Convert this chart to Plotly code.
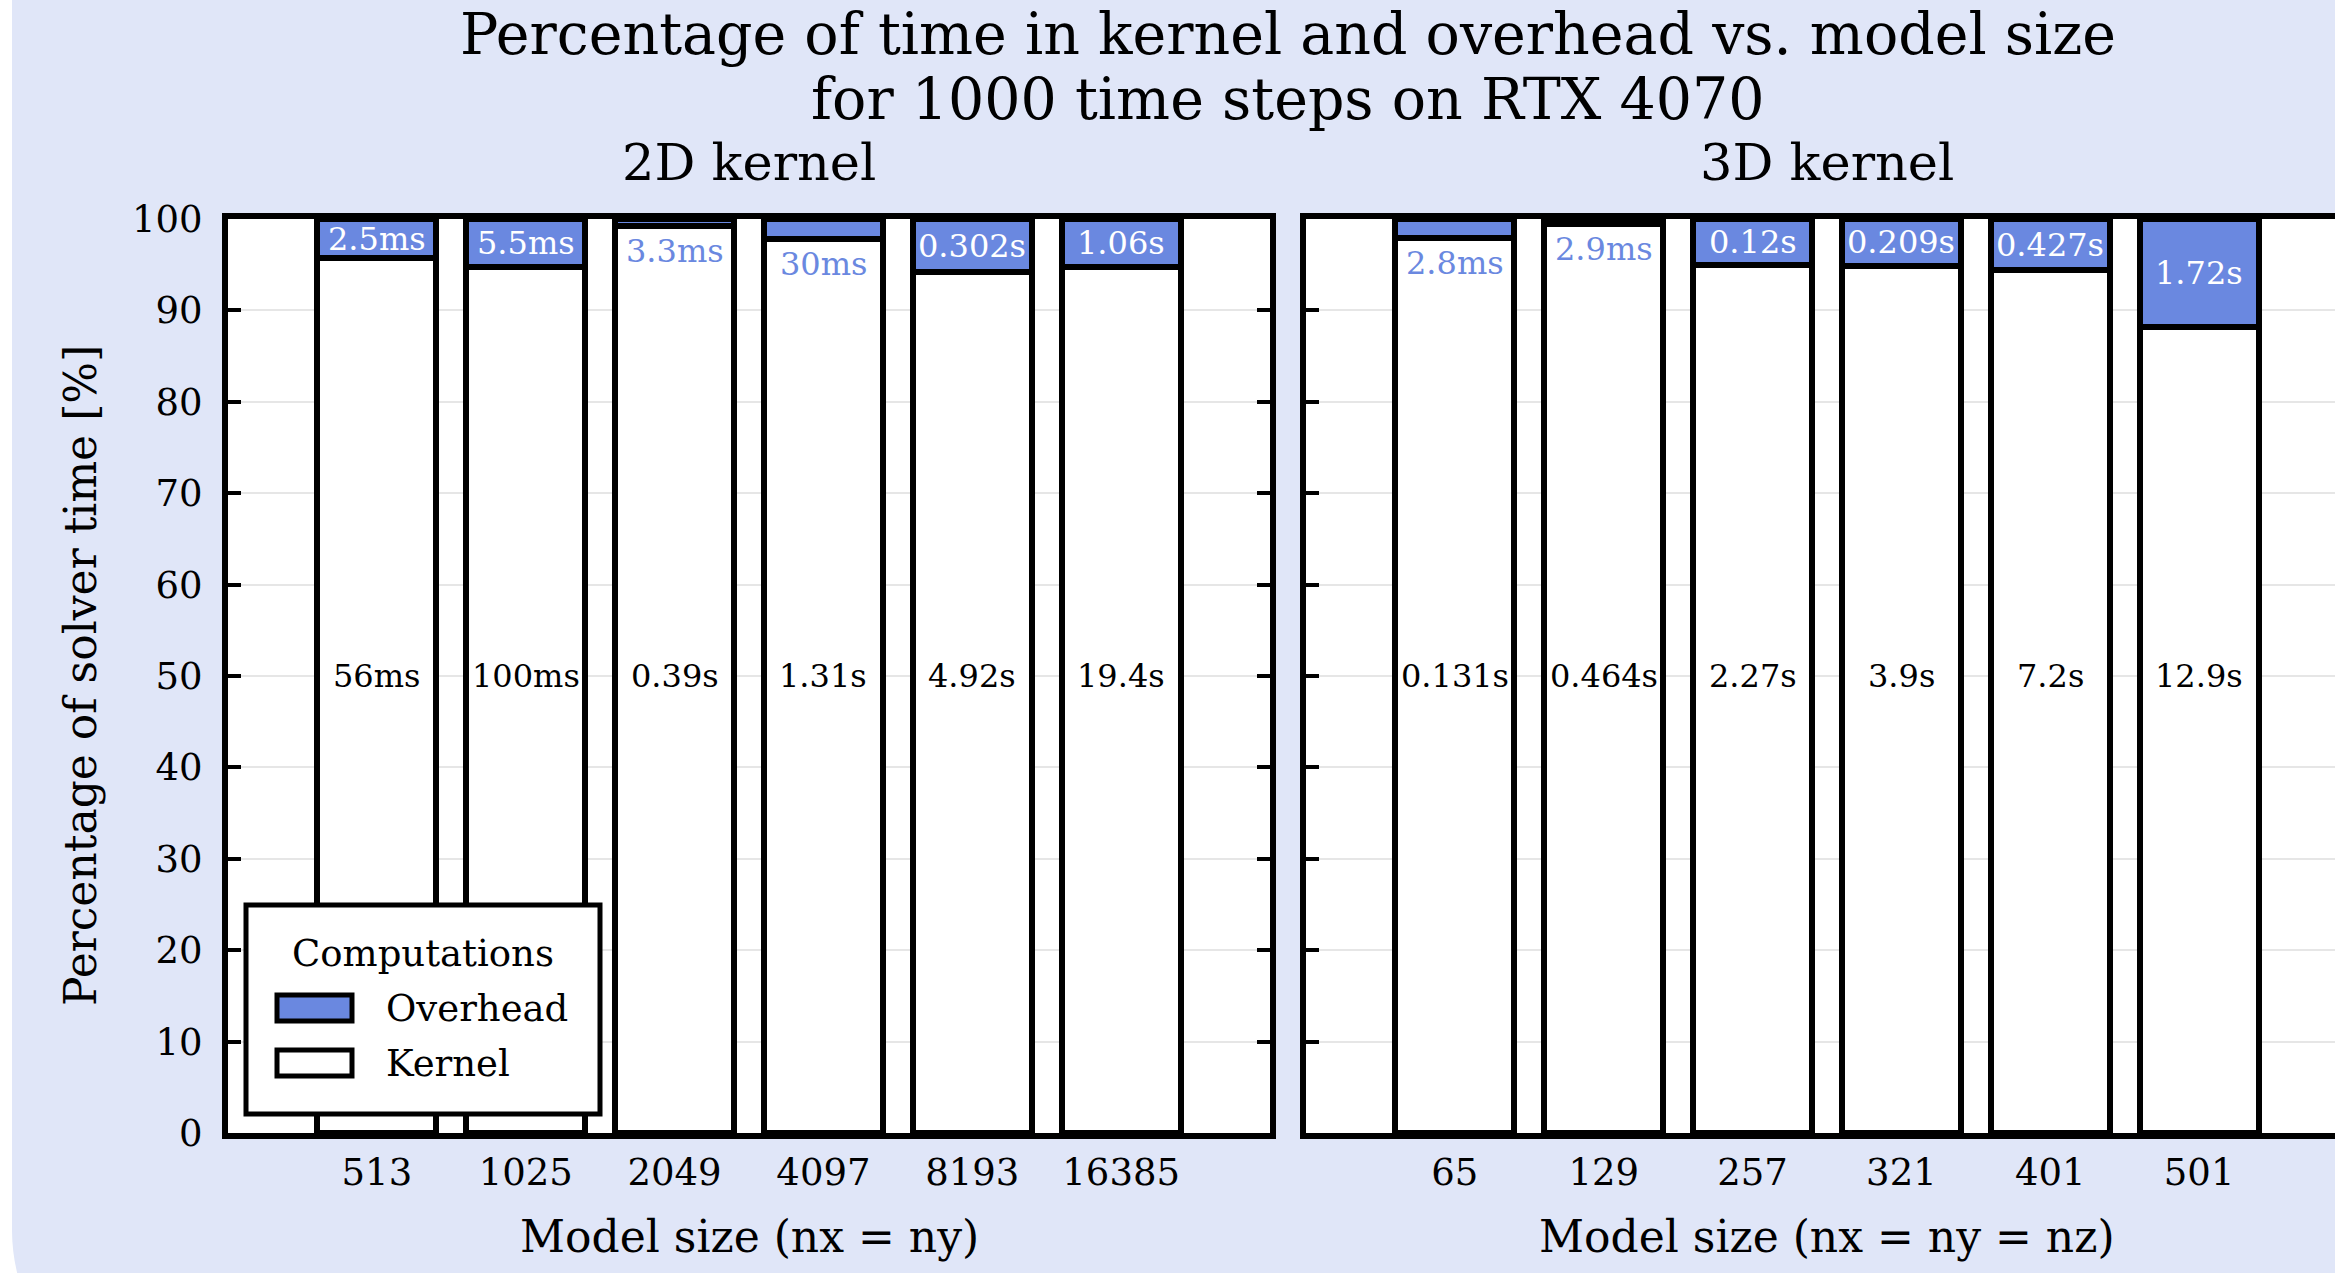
import plotly.graph_objects as go

# ---------------- data ----------------
sizes_2d = ["513", "1025", "2049", "4097", "8193", "16385"]
kernel_pct_2d = [95.7, 94.8, 99.2, 97.8, 94.2, 94.8]
overhead_pct_2d = [4.3, 5.2, 0.8, 2.2, 5.8, 5.2]
kernel_time_2d = ["56ms", "100ms", "0.39s", "1.31s", "4.92s", "19.4s"]
overhead_time_2d = ["2.5ms", "5.5ms", "3.3ms", "30ms", "0.302s", "1.06s"]

sizes_3d = ["65", "129", "257", "321", "401", "501"]
kernel_pct_3d = [97.9, 99.4, 95.0, 94.9, 94.4, 88.2]
overhead_pct_3d = [2.1, 0.6, 5.0, 5.1, 5.6, 11.8]
kernel_time_3d = ["0.131s", "0.464s", "2.27s", "3.9s", "7.2s", "12.9s"]
overhead_time_3d = ["2.8ms", "2.9ms", "0.12s", "0.209s", "0.427s", "1.72s"]

y_ticks = [0, 10, 20, 30, 40, 50, 60, 70, 80, 90, 100]

title_lines = ["Percentage of time in kernel and overhead vs. model size",
               "for 1000 time steps on RTX 4070"]

# ---------------- style ----------------
W, H = 2335, 1273
FONT = "DejaVu Serif"
BLUE = "#6A88E0"
LAV = "#E0E6F8"
EDGE = 6
LBL = 32
TICK = 37
AXT = 44

def px(x):
    return x / W

def py(y):
    return 1 - y / H

fig = go.Figure()

panels = [
    ("x", "y", sizes_2d, kernel_pct_2d, overhead_pct_2d, kernel_time_2d, overhead_time_2d),
    ("x2", "y2", sizes_3d, kernel_pct_3d, overhead_pct_3d, kernel_time_3d, overhead_time_3d),
]

annotations = []
for xa, ya, cats, kp, op, kt, ot in panels:
    fig.add_trace(go.Bar(x=cats, y=kp, name="Kernel", xaxis=xa, yaxis=ya, width=0.8,
                         marker=dict(color="white", line=dict(color="black", width=EDGE)),
                         showlegend=False, hoverinfo="skip"))
    fig.add_trace(go.Bar(x=cats, y=op, name="Overhead", xaxis=xa, yaxis=ya, width=0.8,
                         marker=dict(color=BLUE, line=dict(color="black", width=EDGE)),
                         showlegend=False, hoverinfo="skip"))
    for i, c in enumerate(cats):
        # category index used as position (numeric-looking category names)
        annotations.append(dict(x=i, y=50, xref=xa, yref=ya, text=kt[i], showarrow=False,
                                font=dict(family=FONT, size=LBL, color="black")))
        if op[i] >= 3:
            annotations.append(dict(x=i, y=kp[i] + op[i] / 2, xref=xa, yref=ya, text=ot[i],
                                    showarrow=False, yanchor="middle",
                                    font=dict(family=FONT, size=LBL, color="white")))
        else:
            annotations.append(dict(x=i, y=kp[i], xref=xa, yref=ya, text=ot[i],
                                    showarrow=False, yanchor="top", yshift=-4,
                                    font=dict(family=FONT, size=LBL, color=BLUE)))

# titles
annotations += [
    dict(x=px(1288), y=1.0, xref="paper", yref="paper", text=title_lines[0], showarrow=False,
         xanchor="center", yanchor="top", borderpad=0, font=dict(family=FONT, size=57, color="black")),
    dict(x=px(1288), y=py(99), xref="paper", yref="paper", text=title_lines[1], showarrow=False,
         xanchor="center", yanchor="middle", borderpad=0, font=dict(family=FONT, size=57, color="black")),
    dict(x=2.5, xref="x", y=py(163), yref="paper", text="2D kernel", showarrow=False,
         yanchor="middle", borderpad=0, font=dict(family=FONT, size=51, color="black")),
    dict(x=2.5, xref="x2", y=py(163), yref="paper", text="3D kernel", showarrow=False,
         yanchor="middle", borderpad=0, font=dict(family=FONT, size=51, color="black")),
    dict(x=2.5, xref="x", y=py(1236), yref="paper", text="Model size (nx = ny)", showarrow=False,
         yanchor="middle", font=dict(family=FONT, size=AXT, color="black")),
    dict(x=2.5, xref="x2", y=py(1236), yref="paper", text="Model size (nx = ny = nz)", showarrow=False,
         yanchor="middle", font=dict(family=FONT, size=AXT, color="black")),
    dict(x=px(80), xref="paper", y=0.5, yref="y domain", text="Percentage of solver time [%]",
         textangle=-90, showarrow=False, xanchor="center", yanchor="middle",
         font=dict(family=FONT, size=AXT, color="black")),
]

# manual legend
annotations += [
    dict(x=px(423), y=py(953), xref="paper", yref="paper", text="Computations", showarrow=False,
         xanchor="center", yanchor="middle", font=dict(family=FONT, size=TICK, color="black")),
    dict(x=px(384), y=py(1008), xref="paper", yref="paper", text="Overhead", showarrow=False,
         xanchor="left", yanchor="middle", font=dict(family=FONT, size=TICK, color="black")),
    dict(x=px(384), y=py(1063), xref="paper", yref="paper", text="Kernel", showarrow=False,
         xanchor="left", yanchor="middle", font=dict(family=FONT, size=TICK, color="black")),
]

# background card with rounded bottom-left corner
R = 180
k = 0.5523
x0, ytop, ycorner = 12, -60, 1230
path = (f"M {px(x0)},{py(ytop)} L {px(W + 60)},{py(ytop)} L {px(W + 60)},{py(ycorner + R)} "
        f"L {px(x0 + R)},{py(ycorner + R)} "
        f"C {px(x0 + R - k * R)},{py(ycorner + R)} {px(x0)},{py(ycorner + k * R)} {px(x0)},{py(ycorner)} Z")

shapes = [
    dict(type="path", path=path, xref="paper", yref="paper", fillcolor=LAV,
         line=dict(width=0), layer="below"),
    dict(type="rect", xref="x domain", yref="y domain", x0=0, x1=1, y0=0, y1=1,
         fillcolor="white", line=dict(width=0), layer="below"),
    dict(type="rect", xref="x2 domain", yref="y2 domain", x0=0, x1=1, y0=0, y1=1,
         fillcolor="white", line=dict(width=0), layer="below"),
    # legend box and swatches
    dict(type="rect", xref="paper", yref="paper", x0=px(246), x1=px(600), y0=py(1114), y1=py(905),
         fillcolor="white", line=dict(color="black", width=5), layer="above"),
    dict(type="rect", xref="paper", yref="paper", x0=px(277), x1=px(352), y0=py(1021), y1=py(995),
         fillcolor=BLUE, line=dict(color="black", width=5), layer="above"),
    dict(type="rect", xref="paper", yref="paper", x0=px(277), x1=px(352), y0=py(1076), y1=py(1050),
         fillcolor="white", line=dict(color="black", width=5), layer="above"),
]

ydom = [py(1133), py(219)]
unit = (1270 - 228) / 7
right_end = -1 + (W - 1306) / unit

common_x = dict(type="category", automargin=False, showgrid=False, zeroline=False, showline=True,
                linecolor="black", linewidth=EDGE, mirror=True, ticks="",
                tickfont=dict(family=FONT, size=TICK, color="black"), ticklabelstandoff=2)
common_y = dict(range=[0, 100], tickvals=y_ticks, automargin=False, showgrid=True, gridcolor="#E6E6E6",
                gridwidth=2, zeroline=False, showline=True, linecolor="black", linewidth=EDGE,
                ticks="inside", ticklen=13, tickwidth=4, tickcolor="black",
                tickfont=dict(family=FONT, size=TICK, color="black"), ticklabelstandoff=12)

fig.update_layout(
    width=W, height=H,
    margin=dict(l=0, r=0, t=0, b=0, autoexpand=False),
    paper_bgcolor="white", plot_bgcolor="rgba(0,0,0,0)",
    barmode="stack",
    xaxis=dict(domain=[px(228), px(1270)], range=[-1, 6], anchor="y", **common_x),
    xaxis2=dict(domain=[px(1306), 1.0], range=[-1, right_end], anchor="y2", **common_x),
    yaxis=dict(domain=ydom, anchor="x", mirror="ticks", **common_y),
    yaxis2=dict(domain=ydom, anchor="x2", mirror=False, showticklabels=False, **common_y),
    annotations=annotations,
    shapes=shapes,
    showlegend=False,
)

fig.write_html("out.html", config={"displayModeBar": False},
               post_script="document.body.style.margin='0px';")
